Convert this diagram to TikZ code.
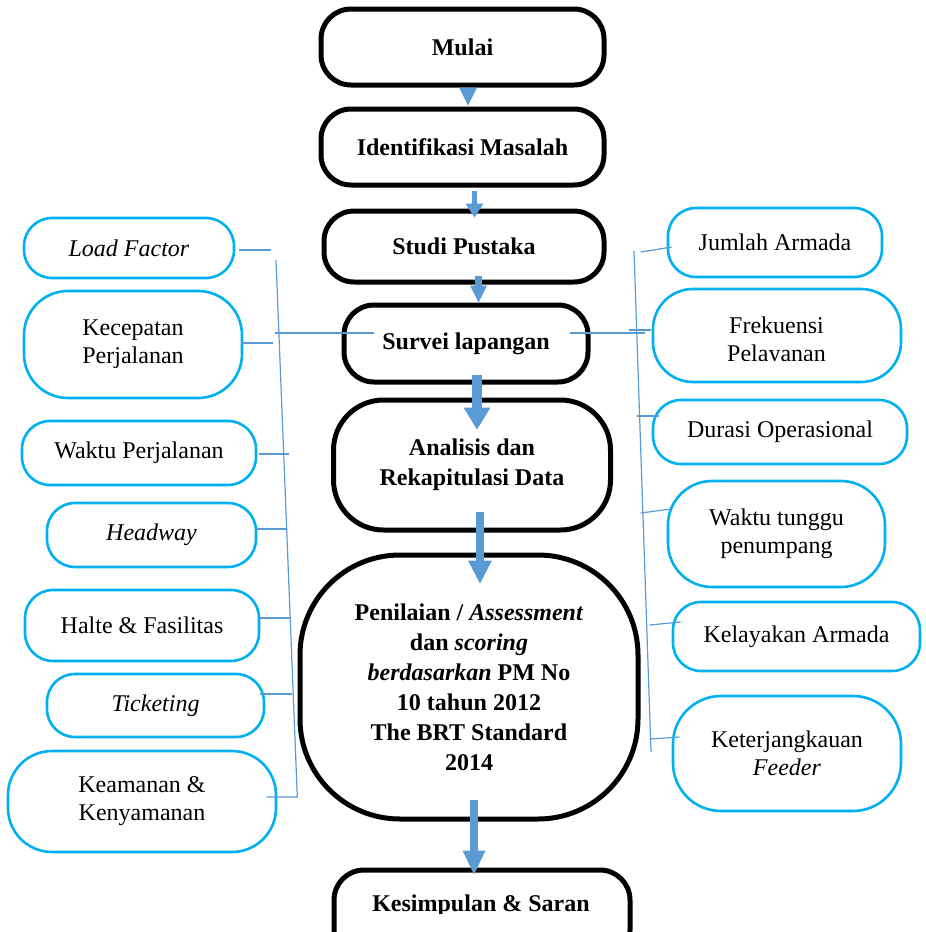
\documentclass[tikz,border=0pt]{standalone}
\usepackage{fontspec}
\setmainfont{Liberation Serif}
\usetikzlibrary{arrows.meta}
\definecolor{cyanb}{HTML}{00B0F0}
\definecolor{flowb}{HTML}{5B9BD5}
\begin{document}
\begin{tikzpicture}[x=0.5pt,y=-0.5pt,
  mainbox/.style={draw=black,line width=2.5pt,rectangle,rounded corners=15pt,align=center,
    font=\fontsize{12}{15}\selectfont\bfseries,inner sep=0pt},
  sidebox/.style={draw=cyanb,line width=1.3pt,rectangle,rounded corners=14pt,align=center,
    font=\fontsize{12}{14}\selectfont,inner sep=0pt},
  conn/.style={draw=flowb,line width=0.6pt},
  fa/.style n args={3}{draw=flowb,line width=#1,-{Triangle[length=#2,width=#3,line width=0pt]}}
]
\useasboundingbox (0,0) rectangle (926,932);
\clip (0,0) rectangle (926,932);

% main flow
\node[mainbox,minimum width=141.5pt,minimum height=38pt] (mu) at (462.5,47) {Mulai};
\node[mainbox,minimum width=141.5pt,minimum height=38pt] (id) at (462.5,147) {Identifikasi Masalah};
\node[mainbox,minimum width=140pt,minimum height=35.5pt] (st) at (464,246.5) {Studi Pustaka};
\node[mainbox,minimum width=122pt,minimum height=38.5pt] (sv) at (466,343.5) {Survei lapangan};
\node[mainbox,rounded corners=25pt,minimum width=138.5pt,minimum height=65pt] (an) at (472,465) {\raisebox{2.5pt}{\parbox{130pt}{\centering Analisis dan\\ Rekapitulasi Data}}};
\node[mainbox,rounded corners=50pt,minimum width=169pt,minimum height=132pt] (pn) at (469,687)
  {Penilaian / \textit{Assessment}\\ dan \textit{scoring}\\ \textit{berdasarkan} PM No\\ 10 tahun 2012\\ The BRT Standard\\ 2014};
\node[mainbox,minimum width=148pt,minimum height=45pt] (ks) at (482,915) {};
\begin{scope}
  \clip (0,0) rectangle (926,913);
  \node[anchor=base,font=\fontsize{12}{15}\selectfont\bfseries,inner sep=0pt] at (481,911) {Kesimpulan \& Saran};
\end{scope}

% left boxes
\node[sidebox,minimum width=105pt,minimum height=30pt] (lf) at (129,248) {\textit{Load Factor}};
\node[sidebox,rounded corners=22pt,minimum width=109pt,minimum height=53.5pt] (kp) at (133,344.5) {Kecepatan\\ Perjalanan};
\node[sidebox,minimum width=117pt,minimum height=32pt] (wp) at (139,453) {Waktu Perjalanan};
\node[sidebox,minimum width=104.5pt,minimum height=32pt] (hw) at (151.5,535) {\textit{Headway}};
\node[sidebox,minimum width=117pt,minimum height=35.5pt] (hf) at (142,625.5) {Halte \& Fasilitas};
\node[sidebox,minimum width=108.5pt,minimum height=31.5pt] (tk) at (155.5,705.5) {\textit{Ticketing}};
\node[sidebox,rounded corners=22pt,minimum width=134pt,minimum height=50.5pt] (kk) at (142,801.5) {Keamanan \&\\ Kenyamanan};

% right boxes
\node[sidebox,minimum width=107pt,minimum height=34.5pt] (ja) at (775,242.5) {Jumlah Armada};
\node[sidebox,rounded corners=20pt,minimum width=124pt,minimum height=46.5pt] (fp) at (777,335.5) {};
\begin{scope}
  \clip (600,0) rectangle (926,360);
  \node[anchor=base,font=\fontsize{12}{14}\selectfont,inner sep=0pt] at (776.5,333) {Frekuensi};
  \node[anchor=base,font=\fontsize{12}{14}\selectfont,inner sep=0pt] at (776.5,361) {Pelayanan};
\end{scope}
\node[sidebox,minimum width=127pt,minimum height=32pt] (do) at (780,432) {Durasi Operasional};
\node[sidebox,rounded corners=22pt,minimum width=108.5pt,minimum height=53pt] (wt) at (776.5,534) {Waktu tunggu\\ penumpang};
\node[sidebox,minimum width=123.5pt,minimum height=34.5pt] (ka) at (796.5,636.5) {Kelayakan Armada};
\node[sidebox,rounded corners=24pt,minimum width=114pt,minimum height=57.5pt] (kf) at (787,753.5) {Keterjangkauan\\ \textit{Feeder}};

% left connectors
\draw[conn] (lf.east) ++(4,2) -- ++(32,0);
\draw[conn] (kp.east) ++(-2,-1.5) -- ++(32,0);
\draw[conn] (sv.west) ++(-67,-10.5) -- ++(99,0);
\draw[conn] (wp.east) ++(2,1) -- ++(30,0);
\draw[conn] (hw.east) ++(-2,-6) -- ++(32,0);
\draw[conn] (hf.east) ++(-1,-7.5) -- ++(31,0);
\draw[conn] (tk.east) ++(-5,-11.5) -- ++(32,0);
\coordinate (lt) at (276,260);
\draw[conn] (kk.east) ++(-11,-4.5) -- ++(31,0) -- (lt);

% right connectors
\coordinate (rt) at (634,251);
\coordinate (rb) at (651,752);
\draw[conn] (rt) -- (rb);
\draw[conn] (ja.west) ++(-26,9.5) -- ++(31,-5);
\draw[conn] (sv.east) ++(-21,-10.5) -- ++(75,0);
\draw[conn] (fp.west) ++(-23,-5.5) -- ++(22,0);
\draw[conn] (do.west) ++(-15,-16) -- ++(22,0);
\draw[conn] (wt.west) ++(-26,-21) -- ++(30,-4);
\draw[conn] (ka.west) ++(-22,-11.5) -- ++(31,-3);
\draw[conn] (kf.west) ++(-22,-14.5) -- ++(30,-2);

% flow arrows
\draw[fa={2pt}{9pt}{9pt}] ([shift={(5.5,3)}]mu.south) -- ([shift={(5.5,-1)}]id.north);
\draw[fa={2.5pt}{7pt}{9pt}] ([shift={(12,3)}]id.south) -- ([shift={(10.5,9)}]st.north);
\draw[fa={3.5pt}{8.5pt}{8.5pt}] ([shift={(14.5,-9)}]st.south) -- ([shift={(12.5,0)}]sv.north);
\draw[fa={5pt}{11pt}{13.5pt}] ([shift={(11,-10)}]sv.south) -- ([shift={(5,32)}]an.north);
\draw[fa={4pt}{11.5pt}{12pt}] ([shift={(8,-21)}]an.south) -- ([shift={(11,31)}]pn.north);
\draw[fa={4pt}{12pt}{11.5pt}] ([shift={(5,-22)}]pn.south) -- ([shift={(-8,7)}]ks.north);
\end{tikzpicture}
\end{document}
